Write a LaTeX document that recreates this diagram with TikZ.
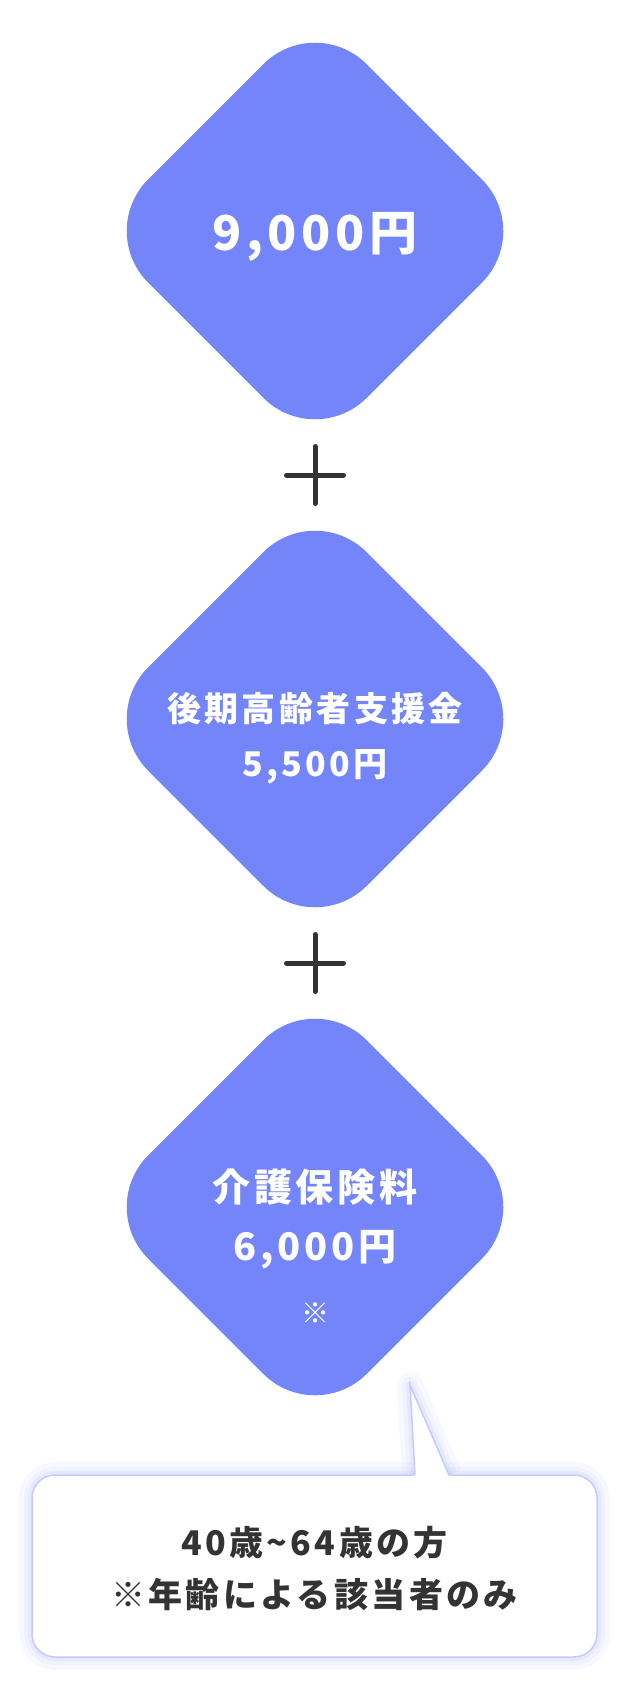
\documentclass[tikz,border=0pt]{standalone}
\usepackage{fontspec}
\setmainfont{Noto Sans CJK JP}
\newfontfamily\jpwide{Noto Sans CJK JP}[LetterSpace=10]
\usetikzlibrary{positioning}

\definecolor{gemblue}{HTML}{7385F8}
\definecolor{inkgray}{HTML}{333333}
\definecolor{edgeblue}{HTML}{C5CCFB}

\tikzset{
  gem/.style={rectangle, rotate=45, minimum width=309pt, minimum height=309pt,
    rounded corners=73pt, fill=gemblue, inner sep=0pt},
  gemtext/.style={text=white, align=center, inner sep=0pt},
  plusbar/.style={draw=inkgray, line width=5pt, line cap=round},
  glow/.style={draw=gemblue, draw opacity=#1},
  bubble/.style={rectangle, minimum width=565pt, minimum height=182pt,
    rounded corners=23pt, fill=white, draw=edgeblue, line width=1.5pt,
    preaction={glow=0.05, line width=26pt},
    preaction={glow=0.06, line width=16pt},
    preaction={glow=0.08, line width=8pt}},
}

\begin{document}
\begin{tikzpicture}[x=1pt, y=-1pt]
\useasboundingbox (0,0) rectangle (630,1692);

% the three amounts
\node[gem] (g1) at (315,231) {};
\node[gem] (g2) at (315,719) {};
\node[gem] (g3) at (315,1207) {};

\node[gemtext, font=\jpwide\bfseries\fontsize{48}{60}\selectfont] (t1) at (315,237) {9,000円};
\node[gemtext, font=\jpwide\bfseries\fontsize{34}{55}\selectfont] (t2) at (315,738) {後期高齢者支援金\\5,500円};
\node[gemtext, font=\jpwide\bfseries\fontsize{38}{59}\selectfont] (t3) at (315,1246) {介護保険料\\6,000円\\[4pt]{\mdseries\fontsize{28}{30}\selectfont ※}};

% plus signs
\coordinate (p1) at (315,475);
\coordinate (p2) at (315,963);
\draw[plusbar] ([yshift=28.5pt]p1) -- ([yshift=-28.5pt]p1);
\draw[plusbar] ([xshift=-28.5pt]p1) -- ([xshift=28.5pt]p1);
\draw[plusbar] ([yshift=28.5pt]p2) -- ([yshift=-28.5pt]p2);
\draw[plusbar] ([xshift=-28.5pt]p2) -- ([xshift=28.5pt]p2);

% note bubble
\coordinate (tip) at (410,1385);
\coordinate (tailL) at (415,1475);
\coordinate (tailR) at (449,1475);
\draw[glow=0.05, line width=26pt, line join=round] (tailL) -- (tip) -- (tailR);
\draw[glow=0.06, line width=16pt, line join=round] (tailL) -- (tip) -- (tailR);
\draw[glow=0.08, line width=8pt, line join=round] (tailL) -- (tip) -- (tailR);
\node[bubble] (note) at (314.5,1566) {};
\fill[white] ([yshift=-2pt]tailL) -- (tip) -- ([yshift=-2pt]tailR) -- cycle;
\draw[edgeblue, line width=1.5pt] (tailL) -- (tip) -- (tailR);
\node[text=inkgray, align=center, font=\jpwide\bfseries\fontsize{34}{52}\selectfont] (notetext) at ([yshift=-2pt]note.center) {40歳\textasciitilde64歳の方\\※年齢による該当者のみ};
\end{tikzpicture}
\end{document}
